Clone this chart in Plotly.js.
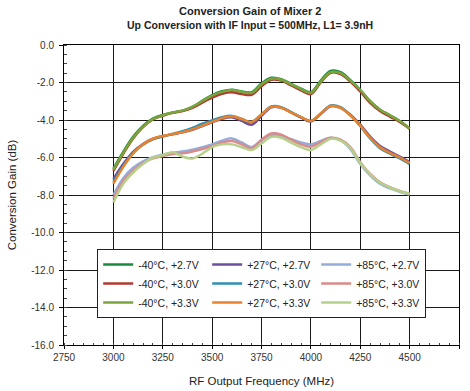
<!DOCTYPE html>
<html>
<head>
<meta charset="utf-8">
<script src="https://cdn.plot.ly/plotly-3.0.1.min.js"></script>
<style>html,body{margin:0;padding:0;background:#fff;}#chart{width:470px;height:391px;}</style>
</head>
<body>
<div id="chart"></div>
<script>
const freq = [3000,3050,3100,3150,3200,3250,3300,3350,3400,3450,3500,3550,3600,3650,3700,3750,3800,3850,3900,3950,4000,4050,4100,4150,4200,4250,4300,4350,4400,4450,4500];

const m40_27 = [-6.6,-5.7,-4.9,-4.32,-3.93,-3.73,-3.6,-3.5,-3.3,-2.98,-2.68,-2.47,-2.38,-2.48,-2.52,-2.05,-1.75,-1.82,-2.08,-2.33,-2.52,-1.9,-1.38,-1.45,-1.88,-2.4,-3.0,-3.45,-3.75,-4.05,-4.45];
const m40_30 = [-6.72,-5.8,-4.98,-4.38,-3.97,-3.77,-3.62,-3.52,-3.35,-3.08,-2.8,-2.6,-2.52,-2.62,-2.65,-2.2,-1.85,-1.9,-2.15,-2.42,-2.62,-2.0,-1.48,-1.55,-1.95,-2.48,-3.08,-3.52,-3.82,-4.1,-4.47];
const m40_33 = [-6.65,-5.75,-4.95,-4.35,-3.95,-3.75,-3.6,-3.5,-3.3,-3.0,-2.7,-2.5,-2.4,-2.5,-2.55,-2.1,-1.8,-1.85,-2.1,-2.35,-2.55,-1.95,-1.45,-1.5,-1.9,-2.4,-3.0,-3.45,-3.75,-4.05,-4.45];

const p27_27 = [-7.15,-6.35,-5.7,-5.28,-5.0,-4.86,-4.76,-4.66,-4.52,-4.32,-4.12,-3.93,-3.85,-4.05,-4.25,-3.78,-3.32,-3.35,-3.6,-3.87,-4.08,-3.68,-3.27,-3.35,-3.72,-4.25,-4.88,-5.38,-5.68,-5.95,-6.25];
const p27_30 = [-7.3,-6.45,-5.75,-5.32,-5.03,-4.88,-4.75,-4.6,-4.42,-4.2,-4.02,-3.85,-3.78,-3.95,-4.1,-3.7,-3.28,-3.32,-3.58,-3.85,-4.05,-3.65,-3.22,-3.32,-3.75,-4.32,-4.98,-5.5,-5.8,-6.05,-6.35];
const p27_33 = [-7.4,-6.5,-5.78,-5.3,-5.0,-4.85,-4.75,-4.65,-4.5,-4.3,-4.1,-3.9,-3.8,-3.95,-4.1,-3.7,-3.3,-3.35,-3.6,-3.85,-4.05,-3.65,-3.25,-3.35,-3.75,-4.3,-4.95,-5.45,-5.75,-6.0,-6.3];

const p85_27 = [-8.0,-7.1,-6.55,-6.2,-5.98,-5.85,-5.75,-5.68,-5.58,-5.45,-5.3,-5.1,-4.98,-5.2,-5.45,-5.08,-4.8,-4.85,-5.02,-5.2,-5.3,-5.12,-4.95,-5.08,-5.55,-6.35,-6.95,-7.4,-7.65,-7.83,-7.97];
const p85_30 = [-8.2,-7.25,-6.7,-6.3,-6.05,-5.92,-5.82,-5.78,-5.68,-5.55,-5.4,-5.2,-5.12,-5.3,-5.5,-5.05,-4.72,-4.78,-5.05,-5.3,-5.42,-5.18,-4.95,-5.05,-5.45,-6.25,-6.88,-7.32,-7.58,-7.78,-7.93];
const p85_33 = [-8.4,-7.4,-6.8,-6.35,-6.0,-5.88,-5.72,-5.95,-6.05,-5.8,-5.45,-5.3,-5.3,-5.45,-5.6,-5.25,-4.9,-4.95,-5.2,-5.45,-5.6,-5.3,-5.0,-5.1,-5.5,-6.3,-6.9,-7.35,-7.6,-7.8,-7.95];

const seriesNames = ["-40°C, +2.7V","+27°C, +2.7V","+85°C, +2.7V","-40°C, +3.0V","+27°C, +3.0V","+85°C, +3.0V","-40°C, +3.3V","+27°C, +3.3V","+85°C, +3.3V"];
const seriesData = [m40_27,p27_27,p85_27,m40_30,p27_30,p85_30,m40_33,p27_33,p85_33];
const seriesColors = ["#178a3e","#6b4f9e","#93acdc","#b03a32","#2f8fb3","#da8a88","#7ba43c","#e8832c","#b6d08c"];

const xTicks = [2750,3000,3250,3500,3750,4000,4250,4500,4750];
const yTicks = [0,-2,-4,-6,-8,-10,-12,-14,-16];

const FONT = "Liberation Sans, Arial, sans-serif";

const traces = seriesData.map((d,i)=>({
  x: freq, y: d, name: seriesNames[i], type: 'scatter', mode: 'lines',
  line: {color: seriesColors[i], width: 2.5, shape: 'spline', smoothing: 1}
}));

const layout = {
  width: 470, height: 391,
  margin: {l: 64, r: 11, t: 45, b: 46},
  paper_bgcolor: '#fff', plot_bgcolor: '#fff',
  font: {family: FONT, color: '#222'},
  showlegend: true,
  legend: {
    orientation: 'h', x: 0.084, y: 0.32, xanchor: 'left', yanchor: 'top',
    bgcolor: '#fff', bordercolor: '#222', borderwidth: 1,
    font: {size: 10.5, family: FONT, color: '#222'},
    entrywidth: 64, entrywidthmode: 'pixels', itemwidth: 30
  },
  xaxis: {
    range: [2750, 4750], tickvals: xTicks, ticktext: xTicks.map(String),
    showgrid: true, gridcolor: '#1a1a1a', gridwidth: 1,
    showline: true, linecolor: '#000', linewidth: 1, mirror: true,
    ticks: 'outside', ticklen: 3, tickcolor: '#000',
    minor: {dtick: 50, ticks: 'inside', ticklen: 2, tickcolor: '#444', showgrid: false},
    tickfont: {size: 10, color: '#333'}, zeroline: false,
    title: {text: 'RF Output Frequency (MHz)', font: {size: 11.5, color: '#222'}, standoff: 14}
  },
  yaxis: {
    range: [-16, 0], tickvals: yTicks, ticktext: yTicks.map(v=>v.toFixed(1)),
    showgrid: true, gridcolor: '#1a1a1a', gridwidth: 1,
    showline: true, linecolor: '#000', linewidth: 1, mirror: true,
    ticks: 'outside', ticklen: 4, tickcolor: '#000', ticklabelstandoff: 3,
    minor: {dtick: 0.5, ticks: 'inside', ticklen: 3, tickcolor: '#444', showgrid: false},
    tickfont: {size: 10, color: '#333'}, zeroline: false,
    title: {text: 'Conversion Gain (dB)', font: {size: 11.5, color: '#222'}, standoff: 12}
  },
  annotations: [
    {text: '<b>Conversion Gain of Mixer 2</b>', xref: 'paper', yref: 'paper', x: 0.47, y: 1, yshift: 34,
     xanchor: 'center', yanchor: 'middle', showarrow: false, font: {size: 11, color: '#222', family: FONT}},
    {text: '<b>Up Conversion with IF Input = 500MHz, L1= 3.9nH</b>', xref: 'paper', yref: 'paper', x: 0.47, y: 1, yshift: 20,
     xanchor: 'center', yanchor: 'middle', showarrow: false, font: {size: 10.5, color: '#222', family: FONT}}
  ]
};

Plotly.newPlot('chart', traces, layout, {displayModeBar: false, staticPlot: true});
</script>
</body>
</html>
